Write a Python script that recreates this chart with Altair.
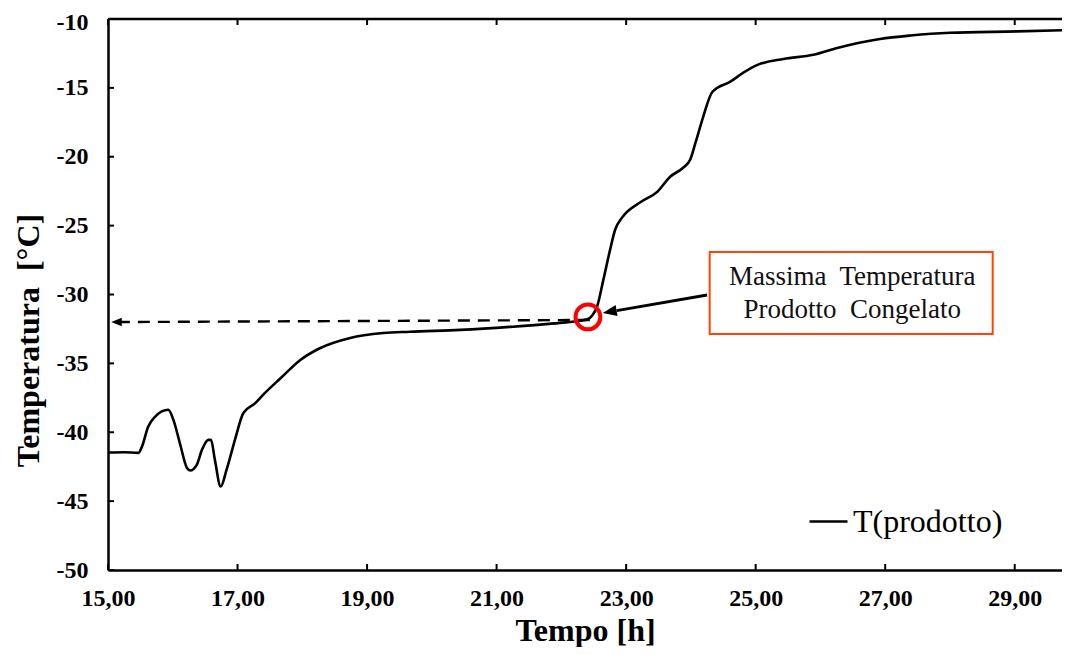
import altair as alt
import pandas as pd

# ---- data ----
time_h = [15.00, 15.25, 15.47, 15.52, 15.62, 15.73, 15.93, 16.01, 16.11, 16.22, 16.27,
          16.37, 16.45, 16.55, 16.59, 16.65, 16.74, 16.83, 16.96, 17.09, 17.27, 17.42,
          17.66, 17.97, 18.27, 18.74, 19.25, 19.66, 20.44, 21.21, 21.98, 22.29, 22.40,
          22.48, 22.55, 22.65, 22.75, 22.83, 22.94, 23.22, 23.48, 23.68, 23.88, 23.99,
          24.07, 24.19, 24.33, 24.61, 24.81, 25.02, 25.43, 25.89, 26.26, 26.92, 27.39,
          28.00, 29.04, 29.85]
temp_c = [-41.47, -41.45, -41.50, -41.10, -39.60, -38.86, -38.37, -39.10, -40.80, -42.60,
          -42.78, -42.37, -41.28, -40.55, -40.55, -42.00, -43.94, -42.73, -40.55, -38.60,
          -37.90, -37.16, -36.10, -34.75, -33.90, -33.15, -32.80, -32.70, -32.57, -32.35,
          -32.06, -31.90, -31.80, -31.50, -30.90, -28.90, -26.80, -25.30, -24.40, -23.30,
          -22.55, -21.45, -20.80, -20.20, -19.00, -17.10, -15.30, -14.55, -13.90, -13.35,
          -12.90, -12.60, -12.10, -11.45, -11.20, -11.00, -10.90, -10.80]
series_name = "T(prodotto)"

x_ticks = [15, 17, 19, 21, 23, 25, 27, 29]
y_ticks = [-50, -45, -40, -35, -30, -25, -20, -15, -10]

x_domain = [15, 29.73]
y_domain = [-50, -10]

# annotation anchors (data units)
max_point = {"t": 22.41, "T": -31.63}
dash_arrow = {"t1": 22.44, "T1": -31.85, "t2": 15.20, "T2": -32.0, "tip_t": 15.05, "tip_T": -32.0}
solid_arrow = {"t1": 24.25, "T1": -30.04, "t2": 22.855, "T2": -31.17, "tip_t": 22.64, "tip_T": -31.34}
box = {"t1": 24.29, "t2": 28.66, "T1": -26.91, "T2": -32.87}
box_lines = ["Massima\u00a0 Temperatura", "Prodotto\u00a0 Congelato"]
box_text_pos = {"t": 26.49, "T": [-28.70, -31.13]}

W, H = 954, 551
SERIF = "Liberation Serif"

df = pd.DataFrame({"t": time_h, "T": temp_c, "s": series_name})

xs = alt.Scale(domain=x_domain, nice=False, zero=False)
ys = alt.Scale(domain=y_domain, nice=False, zero=False)

x_axis = alt.Axis(values=x_ticks, labelExpr="replace(format(datum.value, '.2f'), '.', ',')",
                  title="Tempo [h]", grid=False, ticks=False, labelPadding=16,
                  labelFlush=False, titleY=60, titleBaseline="middle")
y_axis = alt.Axis(values=y_ticks, labelExpr="'' + datum.value", title="Temperatura\u00a0 [°C]",
                  grid=False, ticks=False, labelPadding=20, labelFlush=False,
                  labelOffset={"condition": {"test": "datum.value === -10", "value": 3}, "value": 0},
                  titleX=-80, titleY=321,
                  titleBaseline="middle", titleAlign="center", titleAngle=270)

line = alt.Chart(df).mark_line(strokeWidth=2.6, interpolate="monotone", clip=True).encode(
    x=alt.X("t:Q", scale=xs, axis=x_axis),
    y=alt.Y("T:Q", scale=ys, axis=y_axis),
    color=alt.Color("s:N", scale=alt.Scale(domain=[series_name], range=["black"]),
                    legend=alt.Legend(title=None, orient="none", legendX=700, legendY=482,
                                      symbolType="stroke", symbolSize=1444,
                                      symbolStrokeWidth=2.6, labelFont=SERIF,
                                      labelFontSize=32, labelColor="black",
                                      labelOffset=4, padding=0)),
)

# top frame line
top_df = pd.DataFrame({"T": [y_domain[1]]})
top_line = alt.Chart(top_df).mark_rule(color="black", strokeWidth=2.5).encode(
    y=alt.Y("T:Q", scale=ys), x=alt.value(0), x2=alt.value(W))

# inward ticks
ytick_df = pd.DataFrame({"T": y_ticks})
ytick = alt.Chart(ytick_df).mark_rule(color="black", strokeWidth=2).encode(
    y=alt.Y("T:Q", scale=ys), x=alt.value(0), x2=alt.value(6))
xtick_df = pd.DataFrame({"t": x_ticks})
xtick_bot = alt.Chart(xtick_df).mark_rule(color="black", strokeWidth=2).encode(
    x=alt.X("t:Q", scale=xs), y=alt.value(H - 6), y2=alt.value(H))
xtick_top = alt.Chart(xtick_df).mark_rule(color="black", strokeWidth=2).encode(
    x=alt.X("t:Q", scale=xs), y=alt.value(0), y2=alt.value(6))

ARROW = "M0,0L2,-0.8L2,0.8Z"

# dashed arrow to y axis
dash_df = pd.DataFrame([dash_arrow])
dash_rule = alt.Chart(dash_df).mark_rule(color="black", strokeWidth=2.4, strokeDash=[12, 8]).encode(
    x=alt.X("t1:Q", scale=xs), y=alt.Y("T1:Q", scale=ys), x2="t2:Q", y2="T2:Q")
dash_head = alt.Chart(dash_df).mark_point(shape=ARROW, filled=True, color="black", size=110,
                                          opacity=1).encode(
    x=alt.X("tip_t:Q", scale=xs), y=alt.Y("tip_T:Q", scale=ys))

# red circle
circ_df = pd.DataFrame([max_point])
circle = alt.Chart(circ_df).mark_point(shape="circle", filled=False, color="#FF0000",
                                       strokeWidth=4, size=616, opacity=1).encode(
    x=alt.X("t:Q", scale=xs), y=alt.Y("T:Q", scale=ys))

# solid arrow from box
sol_df = pd.DataFrame([solid_arrow])
sol_rule = alt.Chart(sol_df).mark_rule(color="black", strokeWidth=3).encode(
    x=alt.X("t1:Q", scale=xs), y=alt.Y("T1:Q", scale=ys), x2="t2:Q", y2="T2:Q")
sol_head = alt.Chart(sol_df).mark_point(shape=ARROW, filled=True, color="black", size=196,
                                        angle=350, opacity=1).encode(
    x=alt.X("tip_t:Q", scale=xs), y=alt.Y("tip_T:Q", scale=ys))

# annotation box
box_df = pd.DataFrame([box])
box_rect = alt.Chart(box_df).mark_rect(fill="white", stroke="#FF4500", strokeWidth=2).encode(
    x=alt.X("t1:Q", scale=xs), x2="t2:Q", y=alt.Y("T1:Q", scale=ys), y2="T2:Q")
txt_df = pd.DataFrame({"t": [box_text_pos["t"]] * 2, "T": box_text_pos["T"], "label": box_lines})
box_text = alt.Chart(txt_df).mark_text(font=SERIF, fontSize=27, color="#111111",
                                       align="center", baseline="middle").encode(
    x=alt.X("t:Q", scale=xs), y=alt.Y("T:Q", scale=ys), text="label:N")

chart = alt.layer(
    line, top_line, ytick, xtick_bot, xtick_top, dash_rule, dash_head, circle,
    sol_rule, sol_head, box_rect, box_text
).properties(
    width=W, height=H,
    autosize=alt.AutoSizeParams(type="none"),
    padding={"left": 100, "top": 11, "right": 0, "bottom": 77},
).configure_view(stroke=None).configure_axis(
    domainColor="black", domainWidth=2.5,
    labelFont=SERIF, labelFontSize=24, labelFontWeight="bold", labelColor="black",
    titleFont=SERIF, titleFontSize=32, titleFontWeight="bold", titleColor="black",
)

chart.save("out.html", embed_options={"renderer": "svg", "actions": False})
